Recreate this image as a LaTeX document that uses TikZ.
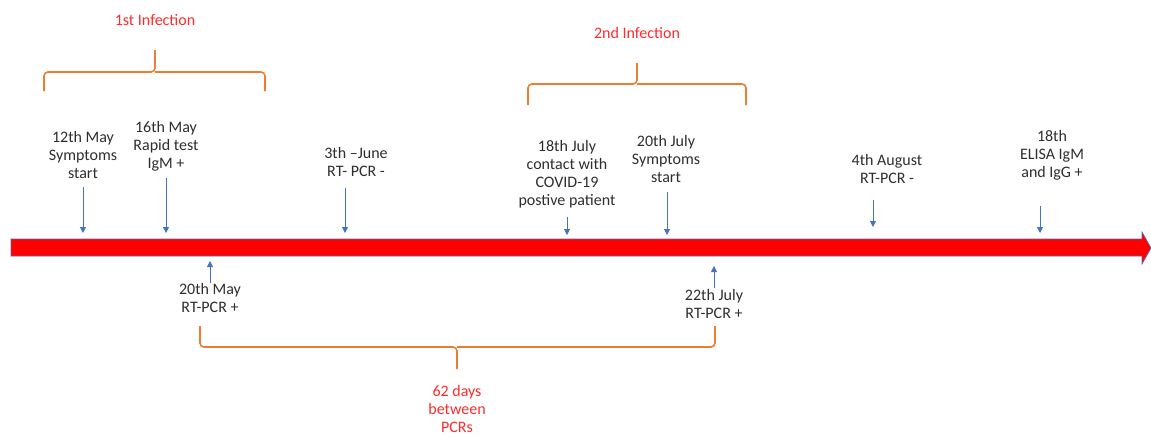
\documentclass[tikz,border=0pt]{standalone}
\usepackage{fontspec}
\setmainfont{Carlito}
\usetikzlibrary{arrows.meta}
\definecolor{bracecol}{HTML}{ED7D31}
\definecolor{labred}{HTML}{FF2A2A}
\definecolor{txt}{HTML}{2E2E2E}
\definecolor{arrblue}{HTML}{4472C4}
\definecolor{barborder}{HTML}{5868A8}
\begin{document}
\begin{tikzpicture}[x=1pt,y=-1pt,
  lbl/.style={align=center,text=txt,font=\fontsize{16}{18}\selectfont,inner sep=0pt},
  redlbl/.style={align=center,text=labred,font=\fontsize{16}{18}\selectfont,inner sep=0pt},
  tick/.style={draw=arrblue,line width=0.8pt,-{Triangle[width=6pt,length=6pt]}},
  brace/.style={draw=bracecol,line width=1.6pt,rounded corners=4pt}]
\useasboundingbox (0,0) rectangle (1151,437);
% timeline bar
\draw[fill=red,draw=barborder,line width=0.6pt]
  (11,239) -- (1142,239) -- (1142,232) -- (1151,248) -- (1142,264) -- (1142,256) -- (11,256) -- cycle;
% labels above
\node[lbl] (n1) at (83,155) {12th May\\Symptoms\\start};
\node[lbl] (n2) at (166,146) {16th May\\Rapid test\\IgM +};
\node[lbl] (n3) at (356,162) {3th –June\\RT- PCR -};
\node[lbl] (n4) at (567,174) {18th July\\contact with\\COVID-19\\postive patient};
\node[lbl] (n5) at (666,159) {20th July\\Symptoms\\start};
\node[lbl] (n6) at (887,169) {4th August\\RT-PCR -};
\node[lbl] (n7) at (1052,155) {18th\\ELISA IgM\\and IgG +};
% labels below
\node[lbl] (n8) at (210,298) {20th May\\RT-PCR +};
\node[lbl] (n9) at (714,303.5) {22th July\\RT-PCR +};
% tick arrows
\coordinate (a1s) at (83,187);  \coordinate (a1e) at (83,233);
\coordinate (a2s) at (166,178); \coordinate (a2e) at (166,233);
\coordinate (a3s) at (345,188); \coordinate (a3e) at (345,233);
\coordinate (a4s) at (567,217); \coordinate (a4e) at (567,235);
\coordinate (a5s) at (667,192); \coordinate (a5e) at (667,235);
\coordinate (a6s) at (873,200); \coordinate (a6e) at (873,227);
\coordinate (a7s) at (1040,206); \coordinate (a7e) at (1040,233);
\coordinate (a8s) at (210,283); \coordinate (a8e) at (210,261);
\coordinate (a9s) at (714,288); \coordinate (a9e) at (714,266);
\foreach \i in {1,...,9}{\draw[tick] (a\i s) -- (a\i e);}
% braces
\coordinate (b1m) at (155,72);
\draw[brace] (44,91) |- (b1m) -- (155,50);
\draw[brace] (265,91) |- (b1m);
\node[redlbl] (t1) at (155,20) {1st Infection};
\coordinate (b2m) at (637,84);
\draw[brace] (528,105) |- (b2m) -- (637,63);
\draw[brace] (746,105) |- (b2m);
\node[redlbl] (t2) at (637,33) {2nd Infection};
\coordinate (b3m) at (457,347);
\draw[brace] (200,326) |- (b3m) -- (457,369);
\draw[brace] (715,326) |- (b3m);
\node[redlbl] (t3) at (457,409) {62 days\\between\\PCRs};
\end{tikzpicture}
\end{document}
